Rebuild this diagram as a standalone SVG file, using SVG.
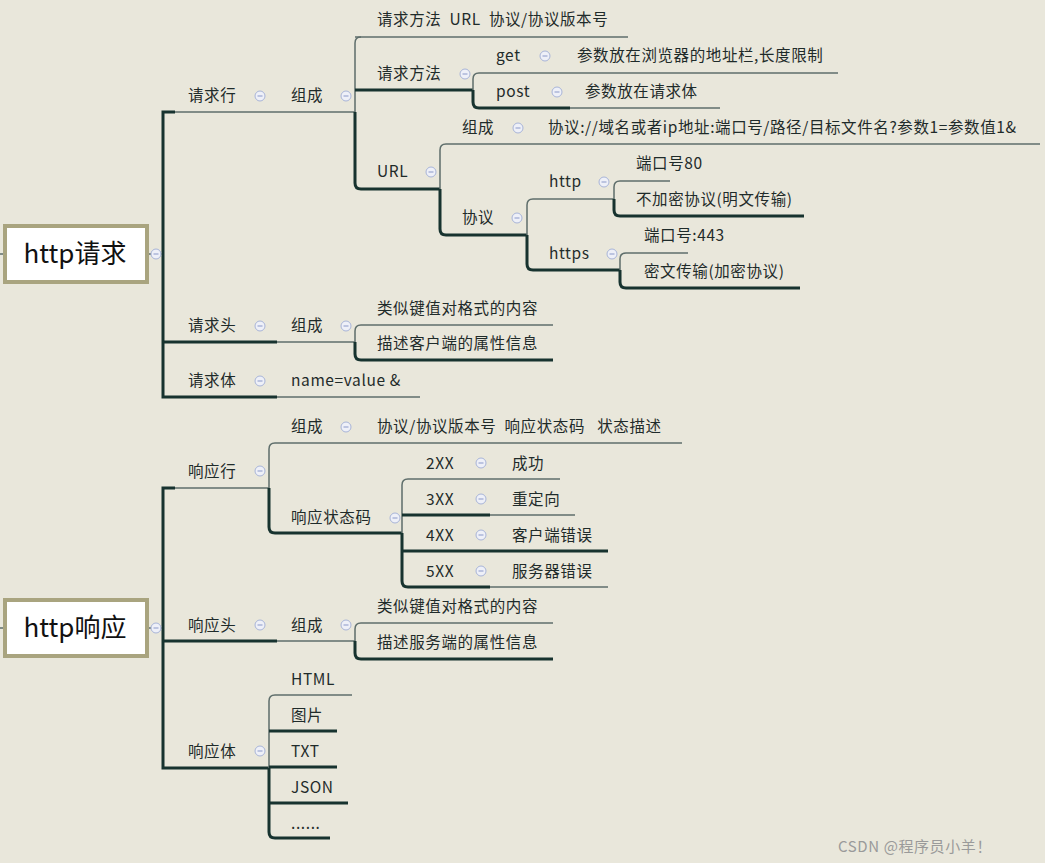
<svg xmlns="http://www.w3.org/2000/svg" width="1045" height="863" viewBox="0 0 1045 863">
<style>
text{font-family:"Microsoft YaHei","Noto Sans CJK SC","Noto Sans",sans-serif;font-size:15.5px;letter-spacing:0.6px;fill:#1f2b2a;white-space:pre}
.t{stroke:#5e6e6b;stroke-width:1.5;fill:none}
.k{stroke:#17332f;stroke-width:3;fill:none}
.root{fill:#fff;stroke:#a9a47f;stroke-width:4}
.big{font-size:26px;fill:#111;letter-spacing:0}
.m{fill:#eef0f8;stroke:#a8b4d8;stroke-width:1}
.wm{fill:#9a9a9a;font-size:15px}
</style>
<rect width="1045" height="863" fill="#e9e7db"/>
<defs><g id="mi"><circle r="5" class="m"/><line x1="-2.5" x2="2.5" stroke="#8a98c8" stroke-width="1"/></g></defs>
<g id="connectors">
<path class="t" d="M0 254H4"/><path class="t" d="M147 254H163"/>
<path class="k" d="M175 112H163V397H277"/><path class="t" d="M175 112H355"/>
<path class="k" d="M163 342H277"/><path class="t" d="M277 342H355"/><path class="t" d="M277 397H420"/>
<path class="t" d="M361 37Q355 37 355 43V112"/><path class="k" d="M355 112V183Q355 189 361 189"/>
<path class="t" d="M355 37H628"/><path class="k" d="M355 90H473"/><path class="k" d="M361 189H440"/>
<path class="t" d="M479 73Q473 73 473 79V90"/><path class="k" d="M473 90V102Q473 108 479 108H570"/>
<path class="t" d="M479 73H838"/><path class="t" d="M570 108H720"/>
<path class="t" d="M446 144Q440 144 440 150V189"/><path class="k" d="M440 189V229Q440 235 446 235H527"/>
<path class="t" d="M446 144H1040"/>
<path class="t" d="M533 199Q527 199 527 205V235"/><path class="k" d="M527 235V264Q527 270 533 270H620"/>
<path class="t" d="M533 199H614"/>
<path class="t" d="M620 181Q614 181 614 187V199"/><path class="k" d="M614 199V210Q614 216 620 216H804"/><path class="t" d="M620 181H670"/>
<path class="t" d="M626 253Q620 253 620 259V270"/><path class="k" d="M620 270V282Q620 288 626 288H800"/><path class="t" d="M626 253H688"/>
<path class="t" d="M361 325Q355 325 355 331V342"/><path class="k" d="M355 342V354Q355 360 361 360H553"/><path class="t" d="M361 325H553"/>
<path class="t" d="M0 628H4"/><path class="t" d="M147 628H163"/>
<path class="k" d="M175 488H163V768H269"/><path class="t" d="M175 488H269"/>
<path class="k" d="M163 641H277"/><path class="t" d="M277 641H355"/>
<path class="t" d="M275 443Q269 443 269 449V488"/><path class="k" d="M269 488V527Q269 533 275 533H402"/>
<path class="t" d="M275 443H682"/>
<path class="t" d="M408 479Q402 479 402 485V533"/><path class="k" d="M402 533V581Q402 587 408 587H490"/>
<path class="t" d="M408 479H560"/><path class="k" d="M402 515H490"/><path class="t" d="M490 515H575"/>
<path class="k" d="M402 551H608"/><path class="t" d="M490 587H608"/>
<path class="t" d="M361 623Q355 623 355 629V641"/><path class="k" d="M355 641V653Q355 659 361 659H553"/><path class="t" d="M361 623H553"/>
<path class="t" d="M275 695Q269 695 269 701V768"/><path class="k" d="M269 768V832Q269 838 275 838H330"/>
<path class="t" d="M275 695H352"/><path class="k" d="M269 731H337"/><path class="k" d="M269 767H337"/><path class="k" d="M269 803H348"/>
</g>
<g id="n-req"><rect class="root" x="5" y="226" width="142" height="56"/><text class="big" x="75" y="263" text-anchor="middle">http请求</text><use href="#mi" x="156" y="254"/></g>
<g id="n-resp"><rect class="root" x="5" y="600" width="142" height="56"/><text class="big" x="75" y="637" text-anchor="middle">http响应</text><use href="#mi" x="156" y="628"/></g>
<g id="n1"><text x="188" y="101">请求行</text><use href="#mi" x="260" y="96"/></g>
<g id="n2"><text x="291" y="101">组成</text><use href="#mi" x="346" y="96"/></g>
<g id="n3"><text x="377" y="25">请求方法  URL  协议/协议版本号</text></g>
<g id="n4"><text x="377" y="79">请求方法</text><use href="#mi" x="465" y="74"/></g>
<g id="n5"><text x="496" y="61">get</text><use href="#mi" x="545" y="56"/></g>
<g id="n6"><text x="577" y="61">参数放在浏览器的地址栏,长度限制</text></g>
<g id="n7"><text x="496" y="97">post</text><use href="#mi" x="557" y="92"/></g>
<g id="n8"><text x="585" y="97">参数放在请求体</text></g>
<g id="n9"><text x="377" y="177">URL</text><use href="#mi" x="431" y="172"/></g>
<g id="n10"><text x="462" y="133">组成</text><use href="#mi" x="518" y="128"/></g>
<g id="n11"><text x="548" y="133">协议://域名或者ip地址:端口号/路径/目标文件名?参数1=参数值1&amp;</text></g>
<g id="n12"><text x="462" y="223">协议</text><use href="#mi" x="517" y="218"/></g>
<g id="n13"><text x="549" y="187">http</text><use href="#mi" x="604" y="182"/></g>
<g id="n14"><text x="636" y="169">端口号80</text></g>
<g id="n15"><text x="636" y="205">不加密协议(明文传输)</text></g>
<g id="n16"><text x="549" y="259">https</text><use href="#mi" x="612" y="254"/></g>
<g id="n17"><text x="644" y="241">端口号:443</text></g>
<g id="n18"><text x="644" y="277">密文传输(加密协议)</text></g>
<g id="n19"><text x="188" y="331">请求头</text><use href="#mi" x="260" y="326"/></g>
<g id="n20"><text x="291" y="331">组成</text><use href="#mi" x="346" y="326"/></g>
<g id="n21"><text x="377" y="314">类似键值对格式的内容</text></g>
<g id="n22"><text x="377" y="349">描述客户端的属性信息</text></g>
<g id="n23"><text x="188" y="386">请求体</text><use href="#mi" x="260" y="381"/></g>
<g id="n24"><text x="291" y="386">name=value &amp;</text></g>
<g id="r1"><text x="188" y="477">响应行</text><use href="#mi" x="260" y="471"/></g>
<g id="r2"><text x="291" y="432">组成</text><use href="#mi" x="346" y="427"/></g>
<g id="r3"><text x="377" y="432">协议/协议版本号  响应状态码   状态描述</text></g>
<g id="r4"><text x="291" y="523">响应状态码</text><use href="#mi" x="395" y="518"/></g>
<g id="r5"><text x="426" y="469">2XX</text><use href="#mi" x="481" y="463"/><text x="512" y="469">成功</text></g>
<g id="r6"><text x="426" y="505">3XX</text><use href="#mi" x="481" y="499"/><text x="512" y="505">重定向</text></g>
<g id="r7"><text x="426" y="541">4XX</text><use href="#mi" x="481" y="535"/><text x="512" y="541">客户端错误</text></g>
<g id="r8"><text x="426" y="577">5XX</text><use href="#mi" x="481" y="571"/><text x="512" y="577">服务器错误</text></g>
<g id="r9"><text x="188" y="631">响应头</text><use href="#mi" x="260" y="625"/></g>
<g id="r10"><text x="291" y="631">组成</text><use href="#mi" x="346" y="625"/></g>
<g id="r11"><text x="377" y="612">类似键值对格式的内容</text></g>
<g id="r12"><text x="377" y="648">描述服务端的属性信息</text></g>
<g id="r13"><text x="188" y="757">响应体</text><use href="#mi" x="260" y="751"/></g>
<g id="r14"><text x="291" y="685">HTML</text></g>
<g id="r15"><text x="291" y="721">图片</text></g>
<g id="r16"><text x="291" y="757">TXT</text></g>
<g id="r17"><text x="291" y="793">JSON</text></g>
<g id="r18"><text x="291" y="829">......</text></g>
<text class="wm" x="838" y="852">CSDN @程序员小羊！</text>
</svg>
